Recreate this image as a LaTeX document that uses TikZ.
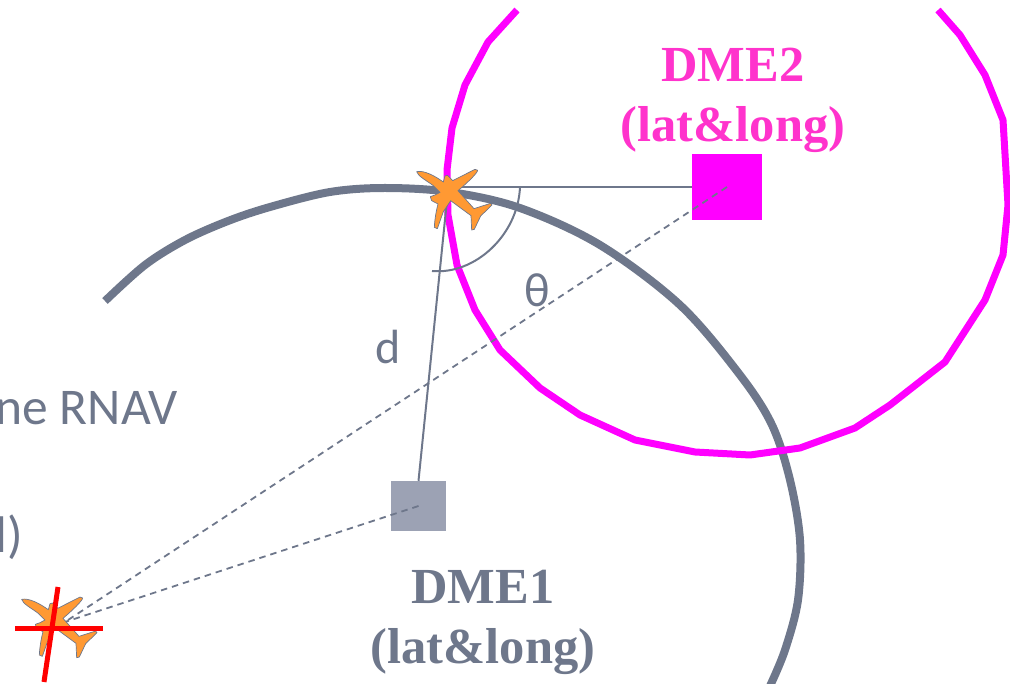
\documentclass[tikz,border=0pt]{standalone}
\usepackage{fontspec}
\setmainfont{Liberation Serif}
\newfontfamily\carlitofont{Carlito}
\definecolor{slate}{HTML}{6E778B}
\definecolor{slatelight}{HTML}{9CA2B4}
\definecolor{mag}{HTML}{FF00FF}
\definecolor{magtext}{HTML}{FF33CC}
\definecolor{plane}{HTML}{FF9933}
\tikzset{
  x=1pt,y=-1pt,
  ring/.style={line width=7pt,line join=round},
  thin line/.style={draw=slate,line width=2pt},
  dash line/.style={draw=slate,line width=1.8pt,dash pattern=on 6.5pt off 5pt},
  crossbar/.style={draw=red,line width=5pt},
  title/.style={font=\bfseries\fontsize{50.5}{60}\selectfont,align=center,inner sep=0pt},
  label/.style={font=\carlitofont\fontsize{48}{54}\selectfont,text=slate,inner sep=0pt},
  body text/.style={font=\carlitofont\fontsize{51.5}{58}\selectfont,text=slate,inner sep=0pt},
  plane shape/.style={fill=plane,draw=slate,line width=0.7pt,line join=round},
}
\newcommand{\planepath}{
  (50,65) .. controls (72,60) and (105,78) .. (130,96) -- (135,78) -- (142,76) -- (158,92)
  -- (225,58) -- (233,61) .. controls (232,70) and (200,100) .. (174,122)
  -- (222,176) -- (272,160) -- (276,165) -- (242,198) -- (223,238) -- (215,240) -- (213,197)
  -- (152,152) -- (130,185) -- (112,236) -- (103,232) .. controls (104,210) and (108,185) .. (114,162)
  -- (95,152) -- (91,140) -- (105,135) -- (120,127) -- (100,107) .. controls (80,92) and (53,78) .. (50,65) -- cycle
}
\begin{document}
\begin{tikzpicture}
\useasboundingbox (0,0) rectangle (1010,684);
\clip (0,0) rectangle (1010,684);
% text
\node[body text,anchor=base east] (rnav) at (178,425) {ne RNAV};
\node[body text,anchor=base east] (rest) at (23,552) {l)};
\node[label,text=slate] (dlabel) at (388,347) {d};
\node[label] (theta) at (537,290) {θ};
% squares
\node[fill=mag,minimum width=70pt,minimum height=66pt,inner sep=0pt] (dme2) at (727,187) {};
\node[fill=slatelight,minimum width=55pt,minimum height=50pt,inner sep=0pt] (dme1) at (418.5,506) {};
\node[title,text=magtext] (dme2t) at (733,100.5) {DME2\\(lat\&long)};
\node[title,text=slate] (dme1t) at (483,622) {DME1\\(lat\&long)};
\coordinate (p1) at (448,190);
\coordinate (p2) at (65,622);
\coordinate (arcs) at (520,187);
% big curves
\draw[ring,line width=8pt,slate] plot[smooth,tension=0.55] coordinates {(105,301) (145,265) (185,240) (228,221) (270,207) (330,192) (385,188) (450,192) (520,208) (600,245) (680,305) (740,375) (772,425) (790,480) (800,540) (798,600) (785,650) (770,686)};
\draw[ring,mag] (517,10) -- (488,42) -- (465,85) -- (452,128) -- (447,170) -- (448,215) -- (457,265)
  -- (475,310) -- (500,350) -- (540,388) -- (580,415) -- (635,440) -- (695,452) -- (750,455)
  -- (800,448) -- (855,428) -- (890,405) -- (945,362) -- (985,300) -- (1003,255) -- (1008,205)
  -- (1003,120) -- (985,75) -- (960,35) -- (938,10);
% thin lines
\draw[thin line] (p1 |- dme2.center) -- (dme2.west);
\draw[thin line] (p1) -- (dme1.north);
\draw[thin line] (arcs) .. controls (518,235) and (475,275) .. (432,271);
\draw[dash line] (dme2.center) -- (p2);
\draw[dash line] (dme1.center) -- (p2);
% planes
\begin{scope}[shift={(400,150)},x=0.3333pt,y=-0.3333pt]
  \path[plane shape] \planepath;
\end{scope}
\begin{scope}[shift={(5,577.7)},x=0.3333pt,y=-0.3333pt]
  \path[plane shape] \planepath;
\end{scope}
\draw[crossbar] (15,628) -- (103,628);
\draw[crossbar] (58,587) -- (44,682);
\end{tikzpicture}
\end{document}
